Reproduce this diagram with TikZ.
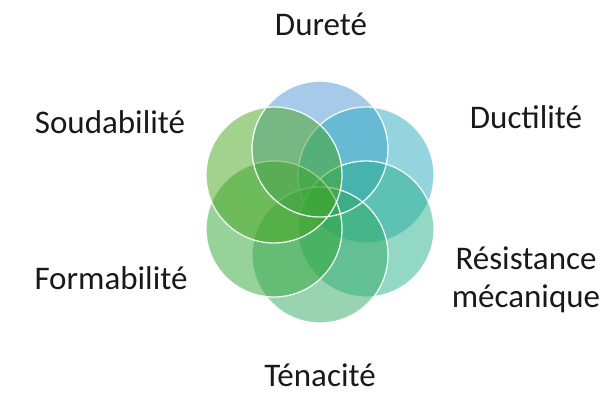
\documentclass[tikz,border=0pt]{standalone}
\usepackage{fontspec}
\setmainfont{Carlito}
\definecolor{cA}{RGB}{80,150,215}
\definecolor{cB}{RGB}{40,170,190}
\definecolor{cC}{RGB}{40,175,140}
\definecolor{cD}{RGB}{50,170,100}
\definecolor{cE}{RGB}{50,165,55}
\definecolor{cF}{RGB}{70,165,30}
\tikzset{
  petal/.style={fill=#1, fill opacity=0.5, draw=white, draw opacity=0.9, line width=1.3pt},
  lbl/.style={font=\fontsize{33}{38}\selectfont, text=black!90, align=center, inner sep=0pt}
}
\begin{document}
\begin{tikzpicture}[x=1pt,y=-1pt]
\useasboundingbox (0,0) rectangle (613,395);
\coordinate (o) at (320,202);
\fill[petal=cA] (320,149) circle[radius=68pt];
\fill[petal=cB] (366,175) circle[radius=68pt];
\fill[petal=cC] (366,229) circle[radius=68pt];
\fill[petal=cD] (320,255) circle[radius=68pt];
\fill[petal=cE] (274,229) circle[radius=68pt];
\fill[petal=cF] (274,175) circle[radius=68pt];
\draw[petal=cA, fill=none] (320,149) circle[radius=68pt];
\node[lbl] (dur) at (321,24) {Dureté};
\node[lbl] (duc) at (526,117) {Ductilité};
\node[lbl] (sou) at (110,122) {Soudabilité};
\node[lbl] (res) at (526,280) {Résistance\\mécanique};
\node[lbl] (for) at (111,278) {Formabilité};
\node[lbl] (ten) at (320,375) {Ténacité};
\end{tikzpicture}
\end{document}
